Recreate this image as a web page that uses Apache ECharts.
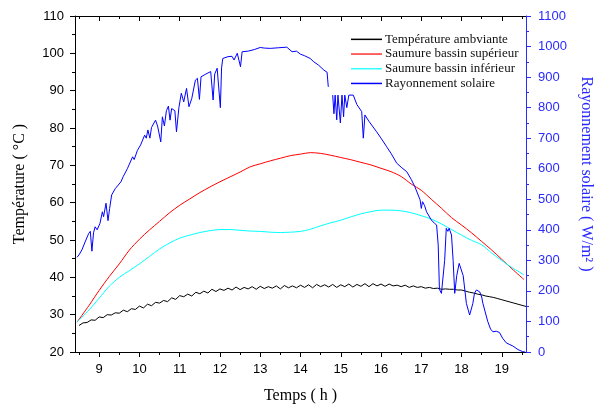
<!DOCTYPE html>
<html>
<head>
<meta charset="utf-8">
<script src="https://cdn.jsdelivr.net/npm/echarts@6/dist/echarts.min.js"></script>
<style>html,body{margin:0;padding:0;background:#fff}#c{width:602px;height:409px}</style>
</head>
<body>
<div id="c"></div>
<script>
// ---- data ----
const seriesNames = ['Température ambviante', 'Saumure bassin supérieur', 'Saumure bassin inférieur', 'Rayonnement solaire'];
const xMajorTicks = [9, 10, 11, 12, 13, 14, 15, 16, 17, 18, 19];
const xMinorTicks = [8.5, 9.5, 10.5, 11.5, 12.5, 13.5, 14.5, 15.5, 16.5, 17.5, 18.5, 19.5];

const ambTime = [8.5,8.6,8.7,8.8,8.9,9.0,9.1,9.2,9.3,9.4,9.5,9.6,9.7,9.8,9.9,10.0,10.1,10.2,10.3,10.4,10.5,10.6,10.7,10.8,10.9,11.0,11.1,11.2,11.3,11.4,11.5,11.6,11.7,11.8,11.9,12.0,12.1,12.2,12.3,12.4,12.5,12.6,12.7,12.8,12.9,13.0,13.1,13.2,13.3,13.4,13.5,13.6,13.7,13.8,13.9,14.0,14.1,14.2,14.3,14.4,14.5,14.6,14.7,14.8,14.9,15.0,15.1,15.2,15.3,15.4,15.5,15.6,15.7,15.8,15.9,16.0,16.1,16.2,16.3,16.4,16.5,16.6,16.7,16.8,16.9,17.0,17.1,17.2,17.3,17.4,17.5,17.6,17.7,17.8,17.9,18.0,18.1,18.2,18.3,18.4,18.5,18.6,18.7,18.8,18.9,19.0,19.1,19.2,19.3,19.4,19.5,19.6];
const ambTemp = [27.1,27.8,27.9,28.6,28.5,29.4,29.2,30.0,29.9,30.5,30.4,31.2,30.8,31.6,31.4,32.3,31.8,32.8,32.4,33.3,33.1,33.8,33.5,34.5,34.1,35.1,34.8,35.5,35.0,36.0,35.6,36.3,35.8,36.8,36.2,36.9,36.5,37.1,36.6,37.4,36.7,37.3,36.9,37.5,36.8,37.6,37.0,37.5,37.1,37.7,36.9,37.8,37.2,37.7,37.2,37.9,37.3,38.0,37.2,38.1,37.5,38.0,37.4,38.1,37.3,38.0,37.5,38.2,37.4,38.1,37.6,38.3,37.5,38.3,37.7,38.2,37.6,38.2,37.7,37.9,37.5,37.9,37.3,37.7,37.3,37.5,37.1,37.3,37.0,37.1,36.8,36.9,36.8,36.8,36.6,36.6,36.3,36.0,35.8,35.5,35.3,35.0,34.8,34.6,34.3,34.0,33.7,33.4,33.1,32.8,32.5,32.2];

const upperTime = [8.45,8.75,9.0,9.25,9.5,9.75,10.0,10.25,10.5,10.75,11.0,11.25,11.5,11.75,12.0,12.25,12.5,12.75,13.0,13.25,13.5,13.75,14.0,14.25,14.5,14.75,15.0,15.25,15.5,15.75,16.0,16.25,16.5,16.75,17.0,17.25,17.5,17.75,18.0,18.25,18.5,18.75,19.0,19.25,19.55];
const upperTemp = [28.0,32.5,36.5,40.2,43.6,47.3,50.2,52.7,55.0,57.3,59.3,61.0,62.7,64.2,65.6,66.9,68.2,69.6,70.4,71.2,71.9,72.6,73.0,73.4,73.2,72.7,72.1,71.5,70.8,70.1,69.2,68.3,67.0,65.0,63.3,60.9,58.5,56.0,54.0,51.9,49.6,47.3,44.8,42.3,39.4];

const lowerTime = [8.45,8.75,9.0,9.25,9.5,9.75,10.0,10.25,10.5,10.75,11.0,11.25,11.5,11.75,12.0,12.25,12.5,12.75,13.0,13.25,13.5,13.75,14.0,14.25,14.5,14.75,15.0,15.25,15.5,15.75,16.0,16.25,16.5,16.75,17.0,17.25,17.5,17.75,18.0,18.25,18.5,18.75,19.0,19.25,19.55];
const lowerTemp = [28.0,31.3,34.4,37.6,40.0,41.8,43.6,45.6,47.6,49.2,50.5,51.3,52.0,52.5,52.8,52.8,52.6,52.4,52.3,52.1,52.0,52.1,52.3,52.9,53.8,54.6,55.3,56.2,57.0,57.6,58.0,58.0,57.8,57.3,56.5,55.6,54.3,52.8,51.3,49.9,48.7,46.5,44.5,42.6,40.7];

const solarTime = [8.45,8.5,8.57,8.65,8.74,8.78,8.82,8.86,8.9,8.95,9.02,9.08,9.11,9.17,9.19,9.22,9.26,9.31,9.4,9.54,9.6,9.7,9.83,9.87,9.95,10.03,10.13,10.17,10.21,10.26,10.3,10.4,10.45,10.53,10.57,10.62,10.67,10.72,10.76,10.8,10.88,10.92,10.98,11.04,11.1,11.17,11.23,11.3,11.39,11.44,11.49,11.53,11.65,11.77,11.83,11.87,11.93,12.01,12.04,12.07,12.2,12.3,12.35,12.43,12.51,12.55,12.7,12.85,13.0,13.1,13.25,13.45,13.66,13.79,13.9,14.0,14.1,14.24,14.33,14.45,14.58,14.66,14.69,14.74,14.8,14.83,14.86,14.9,14.93,14.99,15.03,15.07,15.1,15.15,15.2,15.31,15.4,15.52,15.56,15.6,15.7,15.89,16.0,16.14,16.25,16.39,16.5,16.64,16.75,16.84,16.97,17.0,17.03,17.08,17.13,17.25,17.33,17.38,17.42,17.45,17.5,17.54,17.58,17.62,17.66,17.69,17.75,17.79,17.83,17.88,17.94,17.97,18.04,18.12,18.2,18.28,18.32,18.37,18.41,18.45,18.5,18.53,18.65,18.72,18.78,18.86,18.94,19.02,19.11,19.2,19.27,19.4,19.52,19.58];
const solarValue = [310,318,334,360,388,395,330,390,410,400,421,459,443,487,487,430,470,514,535,557,575,600,639,630,660,678,710,700,727,700,735,759,740,688,770,740,790,805,759,797,790,721,800,847,819,863,803,830,890,896,827,901,910,918,825,910,929,800,930,961,967,968,956,978,934,983,985,990,997,995,994,996,998,983,985,975,970,961,950,939,923,916,868,null,841,780,841,760,841,750,841,770,841,800,841,841,810,787,700,776,755,721,700,672,650,618,605,590,565,541,498,470,492,480,459,432,421,416,350,205,192,195,300,405,395,405,383,300,192,250,290,285,250,159,121,159,192,203,205,197,180,159,100,75,66,68,64,45,30,24,20,8,1,0];

// ---- chart ----
function zip(a, b) { return a.map((t, i) => [t, b[i]]); }
const serif = 'Liberation Serif';
const sans = 'Liberation Sans';
const blueAxis = '#2a2aff';

const chart = echarts.init(document.getElementById('c'), null, { renderer: 'canvas' });
const xBase = { type: 'value', min: 8.4, max: 19.6, gridIndex: 0, splitLine: { show: false } };
chart.setOption({
  animation: false,
  backgroundColor: '#fff',
  grid: { left: 75, right: 76, top: 16, bottom: 57, containLabel: false },
  legend: {
    orient: 'vertical', left: 346, top: 27, itemGap: 0,
    itemWidth: 31, itemHeight: 1.5, icon: 'rect',
    textStyle: { fontFamily: serif, fontSize: 13, color: '#111', lineHeight: 14.7, padding: [0, 0, 0, -2] },
    data: seriesNames
  },
  xAxis: [
    Object.assign({}, xBase, {
      position: 'bottom',
      axisLine: { show: true, lineStyle: { color: '#000', width: 1 } },
      axisTick: { show: true, customValues: xMajorTicks, length: 5, lineStyle: { color: '#000' } },
      axisLabel: { show: true, customValues: xMajorTicks, fontFamily: sans, fontSize: 13, color: '#000', margin: 11 },
      name: 'Temps ( h )', nameLocation: 'middle', nameGap: 36,
      nameTextStyle: { fontFamily: serif, fontSize: 16, color: '#000' }
    }),
    Object.assign({}, xBase, {
      position: 'bottom',
      axisLine: { show: false },
      axisTick: { show: true, customValues: xMinorTicks, length: 3, lineStyle: { color: '#000' } },
      axisLabel: { show: false }
    }),
    Object.assign({}, xBase, {
      position: 'top',
      axisLine: { show: true, lineStyle: { color: '#000', width: 1 } },
      axisTick: { show: true, inside: true, customValues: xMajorTicks, length: 5, lineStyle: { color: '#000' } },
      axisLabel: { show: false }
    }),
    Object.assign({}, xBase, {
      position: 'top',
      axisLine: { show: false },
      axisTick: { show: true, inside: true, customValues: xMinorTicks, length: 3, lineStyle: { color: '#000' } },
      axisLabel: { show: false }
    })
  ],
  yAxis: [
    {
      type: 'value', position: 'left', min: 20, max: 110, interval: 10,
      splitLine: { show: false },
      axisLine: { show: true, lineStyle: { color: '#000', width: 1 } },
      axisTick: { show: true, length: 5, lineStyle: { color: '#000' } },
      minorTick: { show: true, splitNumber: 2, length: 3, lineStyle: { color: '#000' } },
      minorSplitLine: { show: false },
      axisLabel: { fontFamily: sans, fontSize: 13, color: '#000', margin: 11 },
      name: 'Température ( °C )', nameLocation: 'middle', nameGap: 47, nameRotate: 90,
      nameTextStyle: { fontFamily: serif, fontSize: 16, color: '#000' }
    },
    {
      type: 'value', position: 'right', min: 0, max: 1100, interval: 100,
      splitLine: { show: false },
      axisLine: { show: true, lineStyle: { color: blueAxis, width: 1 } },
      axisTick: { show: true, length: 5, lineStyle: { color: blueAxis } },
      minorTick: { show: true, splitNumber: 2, length: 3, lineStyle: { color: blueAxis } },
      minorSplitLine: { show: false },
      axisLabel: { fontFamily: sans, fontSize: 13, color: blueAxis, margin: 12, formatter: v => String(v) },
      name: 'Rayonnement solaire ( W/m² )', nameLocation: 'middle', nameGap: 51, nameRotate: -90,
      nameTextStyle: { fontFamily: serif, fontSize: 16, color: blueAxis, padding: [0, 20, 0, 0] }
    }
  ],
  series: [
    {
      name: seriesNames[0], type: 'line', xAxisIndex: 0, yAxisIndex: 0,
      data: zip(ambTime, ambTemp), showSymbol: false, symbol: 'none',
      lineStyle: { color: '#000', width: 1 }, itemStyle: { color: '#000' }, z: 3
    },
    {
      name: seriesNames[1], type: 'line', xAxisIndex: 0, yAxisIndex: 0,
      data: zip(upperTime, upperTemp), showSymbol: false, symbol: 'none', smooth: 0.3,
      lineStyle: { color: '#ff0000', width: 1 }, itemStyle: { color: '#ff3333' }, z: 3
    },
    {
      name: seriesNames[2], type: 'line', xAxisIndex: 0, yAxisIndex: 0,
      data: zip(lowerTime, lowerTemp), showSymbol: false, symbol: 'none', smooth: 0.3,
      lineStyle: { color: '#00ffff', width: 1 }, itemStyle: { color: '#33ffff' }, z: 3
    },
    {
      name: seriesNames[3], type: 'line', xAxisIndex: 0, yAxisIndex: 1,
      data: zip(solarTime, solarValue), showSymbol: false, symbol: 'none', connectNulls: false,
      lineStyle: { color: '#0000ff', width: 1 }, itemStyle: { color: '#0000ff' }, z: 4
    }
  ]
});
</script>
</body>
</html>
